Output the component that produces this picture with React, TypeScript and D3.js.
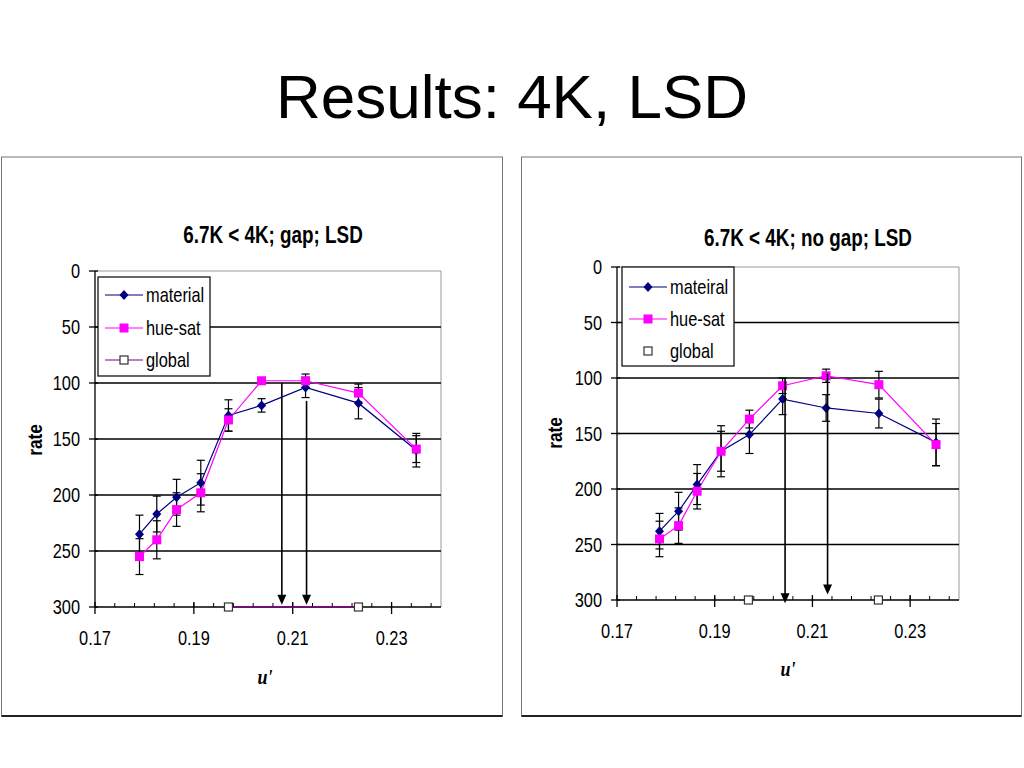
import * as d3 from "d3"

// u' positions of the nine measured stimuli
const uGap = [0.179, 0.1825, 0.1865, 0.1914, 0.197, 0.2037, 0.2126, 0.2233, 0.235]
const uNoGap = [0.1787, 0.1826, 0.1864, 0.1913, 0.1971, 0.2039, 0.2128, 0.2236, 0.2353]

// left chart: 6.7K < 4K; gap; LSD
const gapMaterial = [235, 217, 202, 189, 129, 120, 104, 118, 160]
const gapMaterialErr = [17, 16, 16, 20, 14, 6, 9, 14, 15]
const gapHueSat = [255, 240, 213, 198, 133, 98, 98, 109, 159]
const gapHueSatErr = [16, 17, 15, 17, 10, 2, 6, 8, 12]
const gapGlobalU = [0.197, 0.2233]
const gapGlobal = [300, 300]
const gapArrowU = [0.2078, 0.2128]
const gapArrowFrom = [100, 116]
const gapArrowTo = [298, 298]

// right chart: 6.7K < 4K; no gap; LSD
const noGapMaterial = [238, 220, 196, 166, 151, 119, 127, 132, 158]
const noGapMaterialErr = [16, 17, 18, 23, 17, 14, 12, 13, 21]
const noGapHueSat = [245, 233, 202, 166, 137, 107, 98, 106, 160]
const noGapHueSatErr = [16, 16, 16, 18, 8, 7, 6, 12, 19]
const noGapGlobalU = [0.1969, 0.2235]
const noGapGlobal = [300, 300]
const noGapArrowU = [0.2044, 0.2131]
const noGapArrowFrom = [100, 96]
const noGapArrowTo = [303, 295]

const yTicks = [0, 50, 100, 150, 200, 250, 300]
const xTickValues = [0.17, 0.19, 0.21, 0.23]
const xTickLabels = ["0.17", "0.19", "0.21", "0.23"]

const FONT = "'Liberation Sans', Arial, sans-serif"
const NAVY = "#000080"
const MAGENTA = "#ff00ff"
const PURPLE = "#800080"

function Txt(props: any) {
  const { x, y, size = 20, anchor = "start", bold = false, rotate = 0, sx = 0.82, dy, family = FONT, italic = false, children } = props
  return (
    <text
      transform={`translate(${x},${y})${rotate ? ` rotate(${rotate})` : ""} scale(${sx},1)`}
      fontSize={size}
      fontFamily={family}
      fontWeight={bold ? "bold" : "normal"}
      fontStyle={italic ? "italic" : "normal"}
      textAnchor={anchor}
      dy={dy}
      fill="#000"
    >
      {children}
    </text>
  )
}

const diamond = "M0,-5L4.5,0L0,5L-4.5,0Z"

function Chart(props: any) {
  const { panel, plot, title, titleX, titleY, rateX, rateY, uX, uY, legend, u, material, materialErr, hueSat, hueSatErr, globalU, global, globalLine, arrowU, arrowFrom, arrowTo, materialName } = props

  const x = d3.scaleLinear().domain([0.17, 0.24]).range([plot.x0, plot.x1])
  const y = d3.scaleLinear().domain([0, 300]).range([plot.y0, plot.y1])
  const minor = d3.range(0.174, 0.2401, 0.004)

  const line = d3
    .line<[number, number]>()
    .x((d) => x(d[0]))
    .y((d) => y(d[1]))

  const matPts: [number, number][] = u.map((v: number, i: number) => [v, material[i]])
  const huePts: [number, number][] = u.map((v: number, i: number) => [v, hueSat[i]])
  const globPts: [number, number][] = globalU.map((v: number, i: number) => [v, global[i]])

  const errBars = (pts: [number, number][], errs: number[]) =>
    pts.map((p, i) => {
      const cx = x(p[0])
      const top = y(p[1] - errs[i])
      const bot = y(p[1] + errs[i])
      return (
        <g key={i} stroke="#000" strokeWidth={1.2}>
          <line x1={cx} x2={cx} y1={top} y2={bot} />
          <line x1={cx - 4} x2={cx + 4} y1={top} y2={top} />
          <line x1={cx - 4} x2={cx + 4} y1={bot} y2={bot} />
        </g>
      )
    })

  return (
    <g>
      {/* panel frame */}
      <rect x={panel.x} y={panel.y} width={panel.w} height={panel.h} fill="#fff" stroke="#777" strokeWidth={1} />
      <line x1={panel.x} x2={panel.x + panel.w} y1={panel.y + panel.h} y2={panel.y + panel.h} stroke="#222" strokeWidth={2} />

      <Txt x={titleX} y={titleY} size={23} bold anchor="middle">{title}</Txt>

      {/* plot area border */}
      <line x1={plot.x0} x2={plot.x1} y1={plot.y0} y2={plot.y0} stroke="#999" />
      <line x1={plot.x1} x2={plot.x1} y1={plot.y0} y2={plot.y1} stroke="#999" />

      {/* gridlines */}
      {yTicks.slice(1, -1).map((t) => (
        <line key={t} x1={plot.x0} x2={plot.x1} y1={y(t)} y2={y(t)} stroke="#000" strokeWidth={1.3} />
      ))}

      {/* y axis */}
      <line x1={plot.x0} x2={plot.x0} y1={plot.y0} y2={plot.y1} stroke="#000" strokeWidth={1.3} />
      {yTicks.map((t) => (
        <g key={t}>
          <line x1={plot.x0 - 6} x2={plot.x0 + 3} y1={y(t)} y2={y(t)} stroke="#000" strokeWidth={1.3} />
          <Txt x={plot.x0 - 15} y={y(t)} anchor="end" dy="0.36em">{t}</Txt>
        </g>
      ))}

      {/* x axis */}
      <line x1={plot.x0} x2={plot.x1} y1={plot.y1} y2={plot.y1} stroke="#000" strokeWidth={1.3} />
      {minor.map((t) => (
        <line key={t} x1={x(t)} x2={x(t)} y1={plot.y1} y2={plot.y1 - 4} stroke="#000" />
      ))}
      {xTickValues.map((t, i) => (
        <g key={t}>
          <line x1={x(t)} x2={x(t)} y1={plot.y1 - 5} y2={plot.y1 + 7} stroke="#000" strokeWidth={1.3} />
          <Txt x={x(t)} y={plot.y1 + 38} anchor="middle">{xTickLabels[i]}</Txt>
        </g>
      ))}

      <Txt x={rateX} y={rateY} size={21} bold anchor="middle" rotate={-90}>rate</Txt>
      <Txt x={uX} y={uY} size={20} bold italic anchor="middle" sx={0.9} family="'Liberation Serif', 'Times New Roman', serif">u'</Txt>

      {/* series */}
      {errBars(matPts, materialErr)}
      {errBars(huePts, hueSatErr)}
      {globalLine && <path d={line(globPts) || ""} fill="none" stroke={PURPLE} strokeWidth={1.5} />}
      <path d={line(matPts) || ""} fill="none" stroke={NAVY} strokeWidth={1.2} />
      <path d={line(huePts) || ""} fill="none" stroke={MAGENTA} strokeWidth={1.2} />
      {matPts.map((p, i) => (
        <path key={i} d={diamond} transform={`translate(${x(p[0])},${y(p[1])})`} fill={NAVY} />
      ))}
      {huePts.map((p, i) => (
        <rect key={i} x={x(p[0]) - 4.5} y={y(p[1]) - 4.5} width={9} height={9} fill={MAGENTA} />
      ))}
      {globPts.map((p, i) => (
        <rect key={i} x={x(p[0]) - 4} y={y(p[1]) - 4} width={8} height={8} fill="#fff" stroke="#333" strokeWidth={1.2} />
      ))}

      {/* arrows */}
      {arrowU.map((a: number, i: number) => {
        const ax = x(a)
        const tip = y(arrowTo[i])
        return (
          <g key={i}>
            <line x1={ax} x2={ax} y1={y(arrowFrom[i])} y2={tip - 8} stroke="#000" strokeWidth={1.6} />
            <path d={`M${ax - 4.5},${tip - 10}L${ax + 4.5},${tip - 10}L${ax},${tip}Z`} fill="#000" />
          </g>
        )
      })}

      {/* legend */}
      <rect x={legend.x} y={legend.y} width={legend.w} height={legend.h} fill="#fff" stroke="#000" strokeWidth={1.2} />
      {[materialName, "hue-sat", "global"].map((name, i) => {
        const ly = legend.rows[i]
        const l0 = legend.x + 7
        const l1 = legend.x + 45
        const mx = (l0 + l1) / 2
        return (
          <g key={name}>
            {i === 0 && (
              <g>
                <line x1={l0} x2={l1} y1={ly} y2={ly} stroke={NAVY} strokeWidth={1.2} />
                <path d={diamond} transform={`translate(${mx},${ly})`} fill={NAVY} />
              </g>
            )}
            {i === 1 && (
              <g>
                <line x1={l0} x2={l1} y1={ly} y2={ly} stroke={MAGENTA} strokeWidth={1.2} />
                <rect x={mx - 4.5} y={ly - 4.5} width={9} height={9} fill={MAGENTA} />
              </g>
            )}
            {i === 2 && (
              <g>
                {globalLine && <line x1={l0} x2={l1} y1={ly} y2={ly} stroke={PURPLE} strokeWidth={1.2} />}
                <rect x={mx - 4} y={ly - 4} width={8} height={8} fill="#fff" stroke="#333" strokeWidth={1.2} />
              </g>
            )}
            <Txt x={l1 + 3} y={ly} dy="0.36em">{name}</Txt>
          </g>
        )
      })}
    </g>
  )
}

export default function App() {
  return (
    <svg width={1024} height={768} style={{ position: "absolute", left: 0, top: 0, background: "#fff" }}>
      <text x={512} y={118} fontSize={62} fontFamily={FONT} textAnchor="middle" fill="#000">
        Results: 4K, LSD
      </text>
      <Chart
        panel={{ x: 1.5, y: 157, w: 501, h: 559 }}
        plot={{ x0: 95, x1: 441, y0: 271, y1: 607 }}
        title="6.7K < 4K; gap; LSD"
        titleX={273}
        titleY={243}
        rateX={42}
        rateY={440}
        uX={265}
        uY={684}
        legend={{ x: 98, y: 277, w: 112, h: 99, rows: [295, 328, 360] }}
        materialName="material"
        u={uGap}
        material={gapMaterial}
        materialErr={gapMaterialErr}
        hueSat={gapHueSat}
        hueSatErr={gapHueSatErr}
        globalU={gapGlobalU}
        global={gapGlobal}
        globalLine={true}
        arrowU={gapArrowU}
        arrowFrom={gapArrowFrom}
        arrowTo={gapArrowTo}
      />
      <Chart
        panel={{ x: 521.5, y: 157, w: 500, h: 559 }}
        plot={{ x0: 617, x1: 959, y0: 267, y1: 600 }}
        title="6.7K < 4K; no gap; LSD"
        titleX={808}
        titleY={246}
        rateX={562}
        rateY={433}
        uX={788}
        uY={676}
        legend={{ x: 622, y: 267, w: 112, h: 99, rows: [287, 319, 351] }}
        materialName="mateiral"
        u={uNoGap}
        material={noGapMaterial}
        materialErr={noGapMaterialErr}
        hueSat={noGapHueSat}
        hueSatErr={noGapHueSatErr}
        globalU={noGapGlobalU}
        global={noGapGlobal}
        globalLine={false}
        arrowU={noGapArrowU}
        arrowFrom={noGapArrowFrom}
        arrowTo={noGapArrowTo}
      />
    </svg>
  )
}
